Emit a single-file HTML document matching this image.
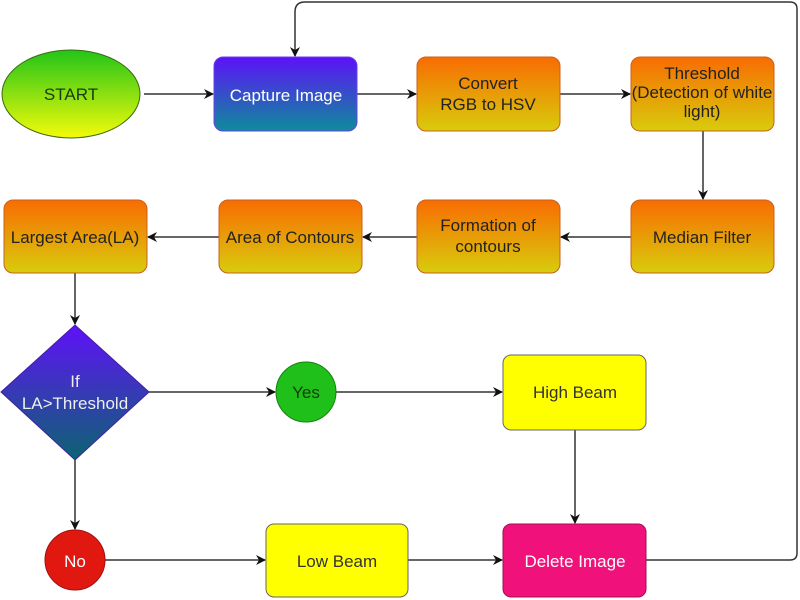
<!DOCTYPE html>
<html><head><style>
html,body{margin:0;padding:0;background:#fff;width:800px;height:600px;overflow:hidden}
text{font-family:"Liberation Sans",sans-serif;font-size:17px}
</style></head><body>
<svg width="800" height="600" viewBox="0 0 800 600" xmlns="http://www.w3.org/2000/svg">
<defs>
<linearGradient id="gy" x1="0" y1="0" x2="0" y2="1"><stop offset="0" stop-color="#22c418"/><stop offset="1" stop-color="#f4fb0a"/></linearGradient>
<linearGradient id="bl" x1="0" y1="0" x2="0" y2="1"><stop offset="0" stop-color="#5c12f8"/><stop offset="1" stop-color="#0e8c9a"/></linearGradient>
<linearGradient id="dm" x1="0" y1="0" x2="0" y2="1"><stop offset="0" stop-color="#6010fa"/><stop offset="1" stop-color="#0c6470"/></linearGradient>
<linearGradient id="or" x1="0" y1="0" x2="0" y2="1"><stop offset="0" stop-color="#f86c02"/><stop offset="1" stop-color="#d8cc0c"/></linearGradient>
<marker id="a" markerWidth="10" markerHeight="10" refX="9" refY="5" orient="auto" markerUnits="userSpaceOnUse"><path d="M0,0 L10,5 L0,10 L3,5 z" fill="#111"/></marker>
</defs>
<g stroke="#333" stroke-width="1.5" fill="none" marker-end="url(#a)">
<line x1="144" y1="94" x2="213" y2="94"/>
<line x1="357" y1="94" x2="416" y2="94"/>
<line x1="560" y1="94" x2="630" y2="94"/>
<line x1="703" y1="131" x2="703" y2="199"/>
<line x1="631" y1="237" x2="561" y2="237"/>
<line x1="417" y1="237" x2="363" y2="237"/>
<line x1="219" y1="237" x2="148" y2="237"/>
<line x1="75" y1="273" x2="75" y2="324"/>
<line x1="149" y1="392" x2="275" y2="392"/>
<line x1="336" y1="392" x2="502" y2="392"/>
<line x1="575" y1="430" x2="575" y2="523"/>
<line x1="75" y1="460" x2="75" y2="529"/>
<line x1="105" y1="560" x2="265" y2="560"/>
<line x1="408" y1="560" x2="502" y2="560"/>
<path d="M646,560 H790 Q797,560 797,553 V9 Q797,2 790,2 H305 Q295,2 295,12 V56"/>
</g>
<ellipse cx="71" cy="94" rx="69" ry="44" fill="url(#gy)" stroke="#3a6a10"/>
<text x="71" y="100" text-anchor="middle" fill="#1a3a10">START</text>
<rect x="214" y="57" width="143" height="74" rx="9" fill="url(#bl)" stroke="#6a40e8"/>
<text x="286" y="101" text-anchor="middle" fill="#fff" font-size="18">Capture Image</text>
<g stroke="#c86020">
<rect x="417" y="57" width="143" height="74" rx="9" fill="url(#or)"/>
<rect x="631" y="57" width="143" height="74" rx="9" fill="url(#or)"/>
<rect x="631" y="200" width="143" height="73" rx="9" fill="url(#or)"/>
<rect x="417" y="200" width="143" height="73" rx="9" fill="url(#or)"/>
<rect x="219" y="200" width="143" height="73" rx="9" fill="url(#or)"/>
<rect x="4" y="200" width="143" height="73" rx="9" fill="url(#or)"/>
</g>
<g fill="#222" text-anchor="middle">
<text x="488" y="89">Convert</text><text x="488" y="110">RGB to HSV</text>
<text x="702" y="79" font-size="15">Threshold</text><text x="702" y="98" font-size="15">(Detection of white</text><text x="702" y="117" font-size="15">light)</text>
<text x="702" y="243">Median Filter</text>
<text x="488" y="231">Formation of</text><text x="488" y="252">contours</text>
<text x="290" y="243">Area of Contours</text>
<text x="75" y="243">Largest Area(LA)</text>
</g>
<polygon points="75,325 149,392 75,460 1,392" fill="url(#dm)" stroke="#4020a0"/>
<text x="75" y="387" text-anchor="middle" fill="#eee" font-size="16">If</text>
<text x="75" y="409" text-anchor="middle" fill="#eee" font-size="16">LA&gt;Threshold</text>
<circle cx="306" cy="392" r="30" fill="#1fc01a" stroke="#188010"/>
<text x="306" y="398" text-anchor="middle" fill="#143a10">Yes</text>
<rect x="503" y="355" width="143" height="75" rx="8" fill="#ffff00" stroke="#666"/>
<text x="575" y="398" text-anchor="middle" fill="#333">High Beam</text>
<circle cx="75" cy="560" r="30" fill="#e01810" stroke="#a01010"/>
<text x="75" y="567" text-anchor="middle" fill="#fff" font-size="18">No</text>
<rect x="266" y="524" width="142" height="73" rx="8" fill="#ffff00" stroke="#666"/>
<text x="337" y="567" text-anchor="middle" fill="#333">Low Beam</text>
<rect x="503" y="524" width="143" height="73" rx="8" fill="#f0127a" stroke="#a01050"/>
<text x="575" y="567" text-anchor="middle" fill="#fff" font-size="18">Delete Image</text>
</svg>
</body></html>
